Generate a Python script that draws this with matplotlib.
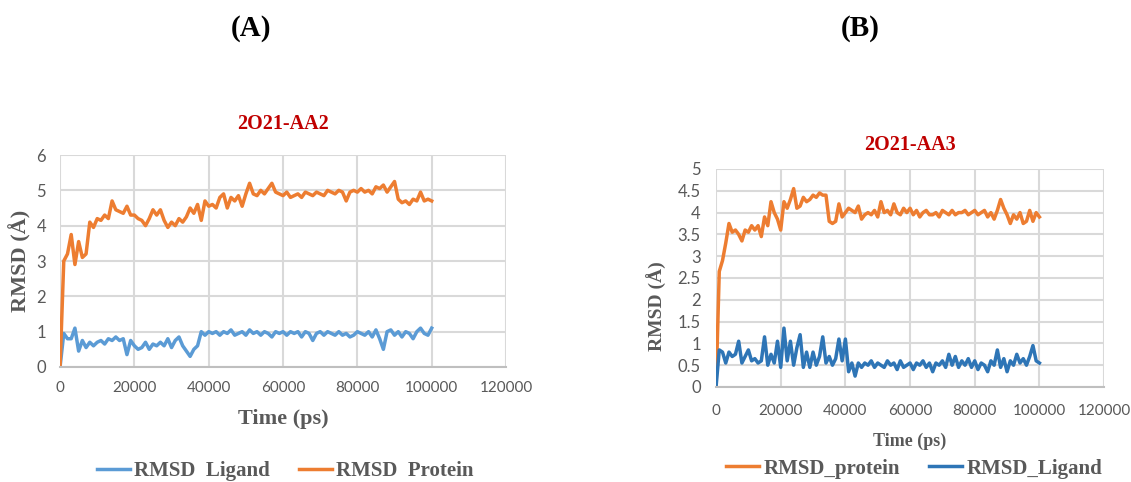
import matplotlib
matplotlib.use("Agg")
import matplotlib.pyplot as plt
import numpy as np

# tiempo en ps, cada 1000 ps
tiempo = np.arange(0, 100001, 1000)

# (A) 2O21-AA2
protA = [0.0, 3.0, 3.2, 3.75, 2.9, 3.55, 3.1, 3.2, 4.1, 3.95,
         4.2, 4.15, 4.3, 4.2, 4.7, 4.45, 4.4, 4.35, 4.55, 4.3,
         4.3, 4.2, 4.15, 4.0, 4.2, 4.45, 4.3, 4.45, 4.15, 3.95,
         4.1, 4.0, 4.2, 4.1, 4.25, 4.5, 4.35, 4.6, 4.15, 4.7,
         4.55, 4.6, 4.5, 4.8, 4.9, 4.5, 4.8, 4.7, 4.85, 4.55,
         4.9, 5.2, 4.9, 4.85, 5.0, 4.9, 5.05, 5.2, 4.95, 4.9,
         4.85, 4.95, 4.8, 4.85, 4.9, 4.8, 4.95, 4.9, 4.85, 4.95,
         4.9, 4.85, 5.0, 4.95, 4.9, 5.0, 4.95, 4.7, 4.95, 5.0,
         4.95, 5.05, 4.95, 5.0, 4.9, 5.1, 5.05, 5.15, 4.95, 5.1,
         5.25, 4.75, 4.65, 4.7, 4.6, 4.75, 4.7, 4.95, 4.7, 4.75,
         4.7]
ligA = [0.0, 0.95, 0.8, 0.8, 1.1, 0.45, 0.75, 0.55, 0.7, 0.6,
        0.7, 0.75, 0.65, 0.8, 0.75, 0.85, 0.75, 0.8, 0.35, 0.75,
        0.6, 0.5, 0.55, 0.7, 0.5, 0.65, 0.6, 0.7, 0.6, 0.8,
        0.55, 0.75, 0.85, 0.6, 0.45, 0.3, 0.5, 0.6, 1.0, 0.9,
        1.0, 0.95, 1.0, 0.9, 1.0, 0.95, 1.05, 0.9, 0.95, 1.0,
        0.9, 1.05, 0.95, 1.0, 0.9, 1.0, 0.95, 0.85, 1.0, 0.95,
        1.0, 0.9, 1.0, 0.95, 1.0, 0.85, 1.0, 0.95, 0.75, 0.95,
        1.0, 0.9, 1.0, 0.95, 0.9, 1.0, 0.9, 0.95, 0.85, 0.9,
        1.0, 0.95, 0.9, 1.0, 0.85, 1.05, 0.8, 0.5, 1.0, 1.05,
        0.9, 1.0, 0.85, 1.0, 0.95, 0.8, 1.0, 1.1, 0.95, 0.9,
        1.1]

# (B) 2O21-AA3
protB = [0.0, 2.65, 2.9, 3.3, 3.75, 3.55, 3.6, 3.5, 3.35, 3.6,
         3.55, 3.7, 3.6, 3.7, 3.45, 3.9, 3.7, 4.25, 4.0, 3.85,
         3.6, 4.25, 4.1, 4.3, 4.55, 4.1, 4.15, 4.35, 4.25, 4.3,
         4.4, 4.35, 4.45, 4.4, 4.4, 3.8, 3.75, 3.8, 4.2, 3.9,
         4.0, 4.1, 4.05, 4.0, 4.15, 3.85, 3.95, 4.0, 3.95, 4.05,
         3.9, 4.25, 4.0, 4.05, 3.95, 4.2, 4.0, 3.95, 4.1, 4.0,
         4.1, 3.95, 4.05, 3.9, 4.0, 4.05, 3.95, 3.95, 4.0, 3.9,
         4.05, 4.0, 3.95, 4.05, 3.95, 4.0, 4.0, 4.05, 3.95, 4.0,
         4.05, 3.95, 4.0, 4.05, 3.9, 4.0, 3.85, 4.05, 4.3, 4.1,
         3.95, 3.75, 3.95, 3.85, 4.0, 3.75, 3.8, 4.05, 3.8, 4.0,
         3.9]
ligB = [0.0, 0.85, 0.8, 0.55, 0.8, 0.7, 0.75, 1.05, 0.55, 0.7,
        0.85, 0.6, 0.65, 0.55, 0.6, 1.15, 0.5, 0.75, 0.55, 1.05,
        0.45, 1.35, 0.6, 1.05, 0.5, 0.9, 1.2, 0.45, 0.8, 0.45,
        0.8, 0.5, 0.7, 1.15, 0.55, 0.7, 0.5, 0.65, 1.1, 0.6,
        1.1, 0.35, 0.55, 0.25, 0.55, 0.45, 0.55, 0.5, 0.6, 0.45,
        0.55, 0.5, 0.45, 0.6, 0.5, 0.55, 0.4, 0.6, 0.45, 0.5,
        0.55, 0.4, 0.55, 0.5, 0.6, 0.45, 0.55, 0.35, 0.55, 0.5,
        0.6, 0.45, 0.75, 0.5, 0.7, 0.45, 0.6, 0.5, 0.65, 0.45,
        0.6, 0.4, 0.55, 0.5, 0.35, 0.6, 0.5, 0.85, 0.45, 0.65,
        0.35, 0.6, 0.5, 0.75, 0.55, 0.65, 0.5, 0.7, 0.95, 0.6,
        0.55]

xticks = [0, 20000, 40000, 60000, 80000, 100000, 120000]

serif = "Liberation Serif"
gris = "#595959"
rejilla = "#D9D9D9"

fig = plt.figure(figsize=(11.31, 4.82), dpi=100)

def preparar(ax, ymax, ypaso, padx, pady):
    ax.set_xlim(0, 120000)
    ax.set_ylim(0, ymax)
    ax.set_xticks(xticks)
    ax.set_yticks(np.arange(0, ymax + 0.001, ypaso))
    ax.yaxis.set_major_formatter(matplotlib.ticker.FuncFormatter(lambda v, p: f"{v:g}"))
    ax.grid(True, color=rejilla, lw=1.5)
    ax.set_axisbelow(True)
    for s in ["top", "right", "left"]:
        ax.spines[s].set_visible(False)
    ax.spines["bottom"].set_color("#BFBFBF")
    ax.spines["bottom"].set_linewidth(1.5)
    ax.tick_params(length=0, labelcolor=gris)
    # los numeros del eje x son estrechos en el original, por eso algo mas pequeños
    ax.tick_params(axis="x", pad=padx, labelsize=11)
    ax.tick_params(axis="y", pad=pady, labelsize=12)
    for lab in ax.get_xticklabels() + ax.get_yticklabels():
        lab.set_family("Lato")

# panel A
axA = fig.add_axes([0.0531, 0.2386, 0.3943, 0.4398])
axA.plot(tiempo, ligA, color="#5B9BD5", lw=2.5, label="RMSD  Ligand")
axA.plot(tiempo, protA, color="#ED7D31", lw=2.5, label="RMSD  Protein")
preparar(axA, 6, 1, 10, 10)
axA.set_xlabel("Time (ps)", family=serif, weight="bold", fontsize=16, color=gris, labelpad=10)
axA.set_ylabel("RMSD (Å)", family=serif, weight="bold", fontsize=16, color=gris)
axA.yaxis.set_label_coords(-0.063, 0.5)
axA.set_title("2O21-AA2", family=serif, weight="bold", fontsize=14.5, color="#C00000", pad=19)
axA.legend(loc="center", bbox_to_anchor=(0.505, -0.49), ncol=2, frameon=False,
           prop={"family": serif, "weight": "bold", "size": 15}, labelcolor=gris,
           handlelength=1.6, columnspacing=1.4, handletextpad=0.2)

# panel B
axB = fig.add_axes([0.6331, 0.1971, 0.3431, 0.4523])
axB.plot(tiempo, protB, color="#ED7D31", lw=2.5, label="RMSD_protein")
axB.plot(tiempo, ligB, color="#2E75B6", lw=2.5, label="RMSD_Ligand")
preparar(axB, 5, 0.5, 12, 11)
axB.set_xlabel("Time (ps)", family=serif, weight="bold", fontsize=13, color=gris, labelpad=11)
axB.set_ylabel("RMSD (Å)", family=serif, weight="bold", fontsize=14, color=gris)
axB.yaxis.set_label_coords(-0.126, 0.37)
axB.set_title("2O21-AA3", family=serif, weight="bold", fontsize=14.5, color="#C00000", pad=14)
axB.legend(loc="center", bbox_to_anchor=(0.51, -0.375), ncol=2, frameon=False,
           prop={"family": serif, "weight": "bold", "size": 15}, labelcolor=gris,
           handlelength=1.6, columnspacing=1.4, handletextpad=0.2)

fig.text(251 / 1131, 1 - 28 / 482, "(A)", family=serif, weight="bold", fontsize=21, ha="center", va="center")
fig.text(860 / 1131, 1 - 28 / 482, "(B)", family=serif, weight="bold", fontsize=21, ha="center", va="center")

fig.savefig("out.png", dpi=100)
